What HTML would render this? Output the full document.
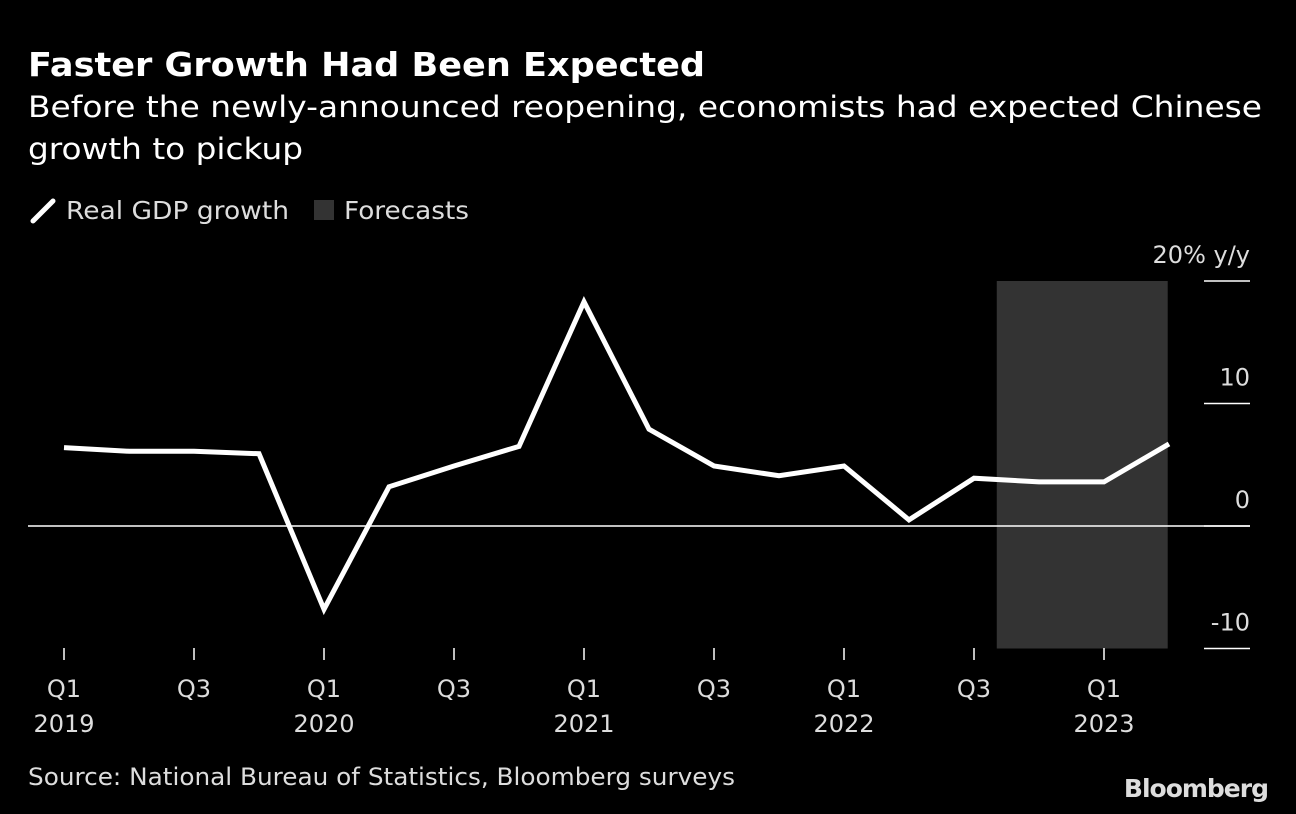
<!DOCTYPE html>
<html><head><meta charset="utf-8"><style>
body{margin:0;background:#000;width:1296px;height:814px;overflow:hidden;font-family:"DejaVu Sans","Liberation Sans",sans-serif;color:#fff}
svg text{font-family:"DejaVu Sans","Liberation Sans",sans-serif}
</style></head><body>
<svg width="1296" height="814" style="position:absolute;left:0;top:0">
<text x="28" y="76" font-size="33" font-weight="bold" fill="#fff" textLength="677" lengthAdjust="spacingAndGlyphs">Faster Growth Had Been Expected</text>
<text x="28" y="117" font-size="29" fill="#fff" textLength="1234" lengthAdjust="spacingAndGlyphs">Before the newly-announced reopening, economists had expected Chinese</text>
<text x="28" y="159" font-size="29" fill="#fff" textLength="275" lengthAdjust="spacingAndGlyphs">growth to pickup</text>
<g><line x1="33" y1="221" x2="53" y2="201" stroke="#fff" stroke-width="5" stroke-linecap="round"/><text x="66" y="219" font-size="25" fill="#ddd" textLength="223" lengthAdjust="spacingAndGlyphs">Real GDP growth</text></g>
<g><rect x="314" y="200" width="20" height="20" fill="#333"/><text x="344" y="219" font-size="25" fill="#ddd" textLength="125" lengthAdjust="spacingAndGlyphs">Forecasts</text></g>
<g id="plot"></g>
<text x="28" y="785" font-size="24" fill="#ddd" textLength="707" lengthAdjust="spacingAndGlyphs">Source: National Bureau of Statistics, Bloomberg surveys</text>
<text x="1268" y="797" font-size="25" font-weight="bold" fill="#ddd" text-anchor="end" letter-spacing="-1">Bloomberg</text>
</svg>
<script>
const quarters=["Q1 2019","Q2 2019","Q3 2019","Q4 2019","Q1 2020","Q2 2020","Q3 2020","Q4 2020","Q1 2021","Q2 2021","Q3 2021","Q4 2021","Q1 2022","Q2 2022","Q3 2022","Q4 2022","Q1 2023","Q2 2023"];
const gdp=[6.4,6.1,6.1,5.9,-6.8,3.2,4.9,6.5,18.3,7.9,4.9,4.1,4.9,0.5,3.9,3.6,3.6,6.7];
const yTicks=[20,10,0,-10];
const yLabels=["20% y/y","10","0","-10"];
const xTickIdx=[0,2,4,6,8,10,12,14,16];
const xTickTop=["Q1","Q3","Q1","Q3","Q1","Q3","Q1","Q3","Q1"];
const xTickYear=["2019","","2020","","2021","","2022","","2023"];
const forecastRange=[14.35,16.98];
const NS="http://www.w3.org/2000/svg";
const g=document.getElementById('plot');
const x=i=>64+i*65;
const y=v=>526-v*12.25;
function mk(t,a,p){const e=document.createElementNS(NS,t);for(const k in a)e.setAttribute(k,a[k]);(p||g).appendChild(e);return e;}
let r=mk('rect',{x:x(forecastRange[0]),y:y(20),width:x(forecastRange[1])-x(forecastRange[0]),height:y(-10)-y(20),fill:'#333'});


yTicks.forEach((v,i)=>{
 let l=mk('line',{x1:1204,x2:1250,y1:y(v),y2:y(v),stroke:'#fff','stroke-width':1.5});
 
 
 let t=mk('text',{x:1250,y:y(v)-18,'font-size':24,fill:'#ddd','text-anchor':'end'});
 t.textContent=yLabels[i];
 
 
});
let z=mk('line',{x1:28,x2:1250,y1:y(0),y2:y(0),stroke:'#fff','stroke-width':1.5});


xTickIdx.forEach((q,i)=>{
 let l=mk('line',{x1:x(q),x2:x(q),y1:648,y2:660,stroke:'#fff','stroke-width':1.5});
 
 
 let t=mk('text',{x:x(q),y:697,'font-size':24,fill:'#ddd','text-anchor':'middle'});
 t.textContent=xTickTop[i];
 
 
 if(xTickYear[i]){let t2=mk('text',{x:x(q),y:732,'font-size':24,fill:'#ddd','text-anchor':'middle'});
 t2.textContent=xTickYear[i];
 
 }
});
let p=mk('polyline',{points:gdp.map((v,i)=>x(i)+','+y(v)).join(' '),fill:'none',stroke:'#fff','stroke-width':5,'stroke-linejoin':'miter'});


</script>
</body></html>
